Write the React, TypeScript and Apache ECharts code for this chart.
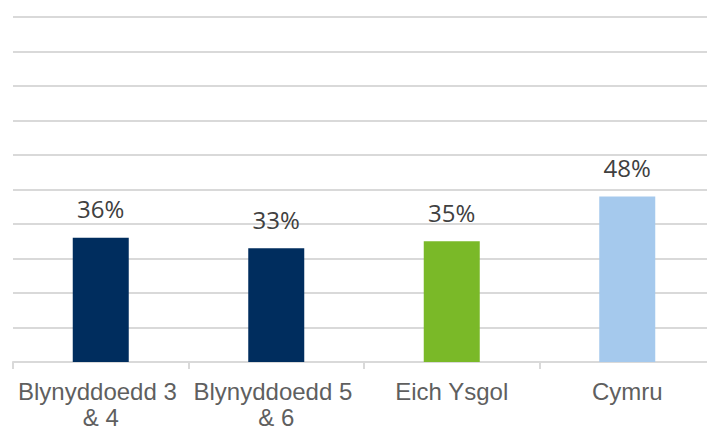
import React, { useEffect, useRef } from "react";
import * as echarts from "echarts";

const categories = ["Blynyddoedd 3 & 4", "Blynyddoedd 5 & 6", "Eich Ysgol", "Cymru"];
const values = [36, 33, 35, 48];
const barColors = ["#002D5E", "#002D5E", "#7AB928", "#A5C9ED"];

export default function App() {
  const ref = useRef<HTMLDivElement>(null);
  useEffect(() => {
    if (!ref.current) return;
    const chart = echarts.init(ref.current, null, { renderer: "svg" });
    chart.setOption({
      animation: false,
      backgroundColor: "#ffffff",
      grid: { left: 13, right: 0, top: 17, bottom: 67, containLabel: false },
      xAxis: {
        type: "category",
        data: categories,
        axisLine: { lineStyle: { color: "#d9d9d9", width: 2 } },
        axisTick: { show: true, length: 7, lineStyle: { color: "#d9d9d9", width: 2 } },
        axisLabel: {
          fontFamily: "Liberation Sans, Arial, sans-serif",
          fontSize: 24,
          color: "#5f5f5f",
          lineHeight: 26,
          margin: 16,
          width: 174,
          overflow: "break",
          interval: 0,
        },
      },
      yAxis: {
        type: "value",
        min: 0,
        max: 100,
        interval: 10,
        axisLabel: { show: false },
        axisLine: { show: false },
        axisTick: { show: false },
        splitLine: { lineStyle: { color: "#d9d9d9", width: 2 } },
      },
      series: [
        {
          type: "bar",
          barWidth: 56,
          data: values.map((v, i) => ({ value: v, itemStyle: { color: barColors[i] } })),
          label: {
            show: true,
            position: "top",
            distance: 17,
            formatter: "{c}%",
            fontFamily: "Open Sans, sans-serif",
            fontSize: 24,
            color: "#404040",
          },
        },
      ],
    });
    return () => chart.dispose();
  }, []);
  return (
    <div style={{ position: "fixed", left: 0, top: 0, width: 707, height: 430, overflow: "hidden", background: "#fff" }}>
      <div ref={ref} style={{ width: 717, height: 430 }} />
    </div>
  );
}
